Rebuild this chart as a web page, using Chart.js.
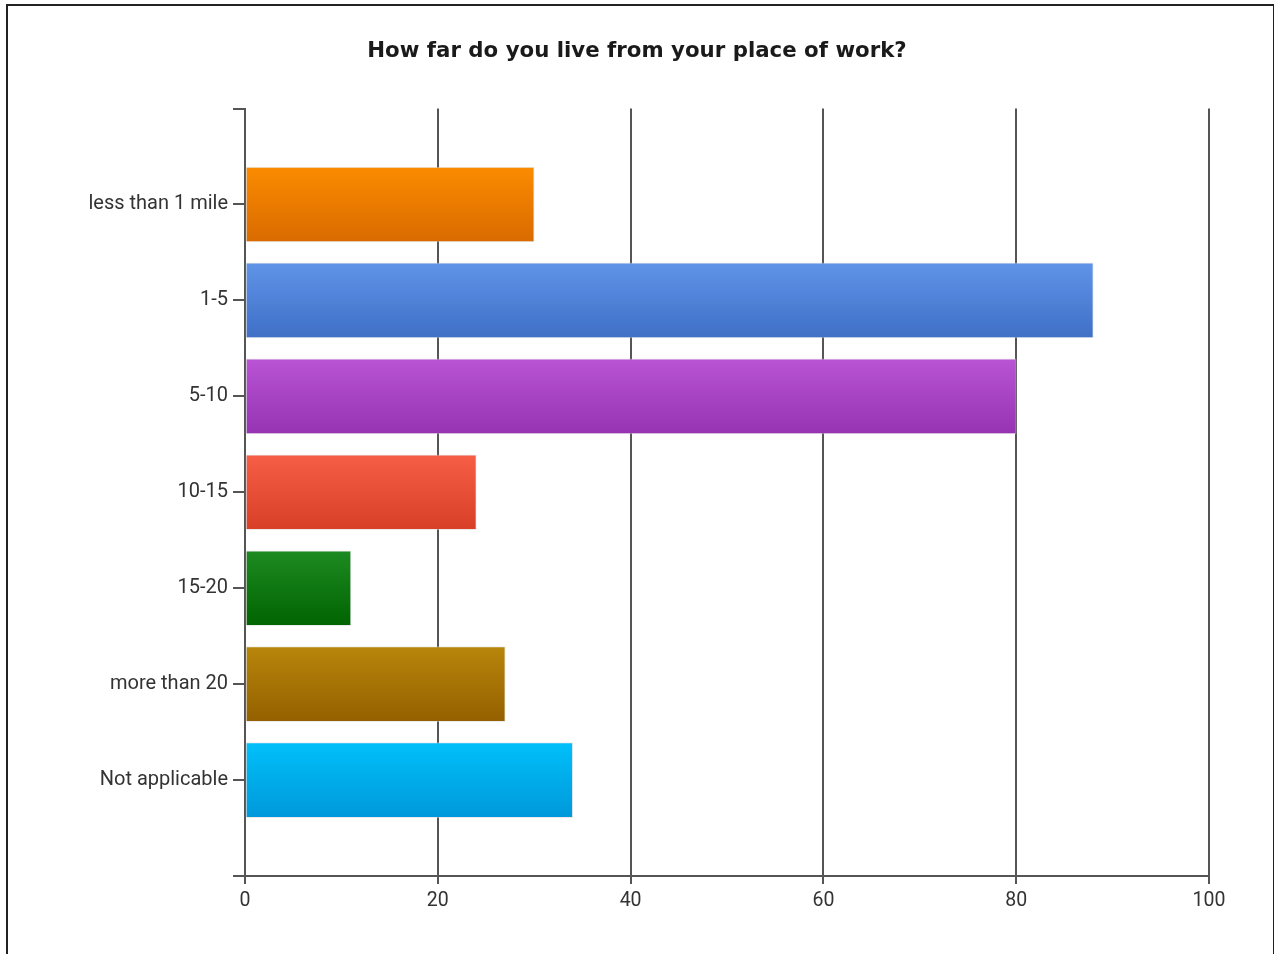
<!DOCTYPE html>
<html>
<head>
<meta charset="utf-8">
<script src="https://cdn.jsdelivr.net/npm/chart.js@4.4.0/dist/chart.umd.min.js"></script>
<style>
    html, body { margin: 0; padding: 0; background: #fff; overflow: hidden; }
    #wrap { position: absolute; left: 0; top: 0; width: 1274px; height: 954px; }
    #frame { position: absolute; left: 6px; top: 4px; width: 1265px; height: 960px; border: 2px solid #222; pointer-events: none; }
</style>
</head>
<body>
<div id="wrap"><canvas id="distance-chart" width="1274" height="954"></canvas></div>
<div id="frame"></div>
<script>
const categories = ['less than 1 mile', '1-5', '5-10', '10-15', '15-20', 'more than 20', 'Not applicable'];
const responses = [30, 88, 80, 24, 11, 27, 34];
const xTicks = [0, 20, 40, 60, 80, 100];
// top / bottom colour of each bar's gradient
const topColors = ['#fb8c00', '#5f94e9', '#b955d4', '#f65e45', '#1e8a22', '#b8860b', '#00c0fa'];
const bottomColors = ['#d96a00', '#3f6fc6', '#9633b3', '#d83f27', '#006400', '#946000', '#0098da'];

// empty slots above and below so the bars sit half a band away from the axis ends
const labels = [''].concat(categories, ['']);
const values = [null].concat(responses, [null]);

function barFill(context) {
    const i = context.dataIndex - 1;
    const chart = context.chart;
    const yScale = chart.scales.y;
    if (i < 0 || i >= categories.length) return 'rgba(0,0,0,0)';
    if (!chart.chartArea || !yScale) return topColors[i];
    const yc = yScale.getPixelForValue(context.dataIndex);
    const g = chart.ctx.createLinearGradient(0, yc - 38, 0, yc + 38);
    g.addColorStop(0, topColors[i]);
    g.addColorStop(1, bottomColors[i]);
    return g;
}

const ctx = document.getElementById('distance-chart').getContext('2d');
const distanceChart = new Chart(ctx, {
    type: 'bar',
    data: {
        labels: labels,
        datasets: [{
            label: 'Responses',
            data: values,
            backgroundColor: barFill,
            borderColor: 'rgba(215,215,215,0.5)',
            borderWidth: 1,
            borderSkipped: false,
            barThickness: 75
        }]
    },
    options: {
        indexAxis: 'y',
        responsive: false,
        animation: false,
        layout: { padding: 0 },
        plugins: {
            legend: { display: false },
            tooltip: { enabled: false },
            title: {
                display: true,
                text: 'How far do you live from your place of work?',
                color: '#1a1a1a',
                font: { family: 'DejaVu Sans', size: 21.3, weight: 'bold', lineHeight: 1.2 },
                padding: { top: 39, bottom: 44 }
            }
        },
        scales: {
            x: {
                min: 0,
                max: 100,
                afterBuildTicks: scale => { scale.ticks = xTicks.map(v => ({ value: v })); },
                afterFit: scale => { scale.height = 78; },
                grid: { color: '#555', lineWidth: 2, tickLength: 8, drawTicks: true },
                border: { color: '#555', width: 2 },
                ticks: {
                    color: '#333',
                    padding: 5,
                    font: { family: 'Roboto', size: 19.5 }
                }
            },
            y: {
                offset: false,
                afterFit: scale => { scale.width = 245; },
                grid: { offset: false, drawOnChartArea: false, drawTicks: true, tickLength: 12, color: '#555', lineWidth: 2 },
                border: { color: '#555', width: 2 },
                ticks: {
                    color: '#333',
                    padding: 5,
                    autoSkip: false,
                    font: { family: 'Roboto', size: 20 }
                }
            },
            // empty right-hand gutter so the title stays centred on the page
            gutter: {
                type: 'linear',
                position: 'right',
                display: true,
                afterFit: scale => { scale.width = 65; },
                grid: { display: false },
                ticks: { display: false },
                border: { display: false }
            }
        }
    }
});
</script>
</body>
</html>
